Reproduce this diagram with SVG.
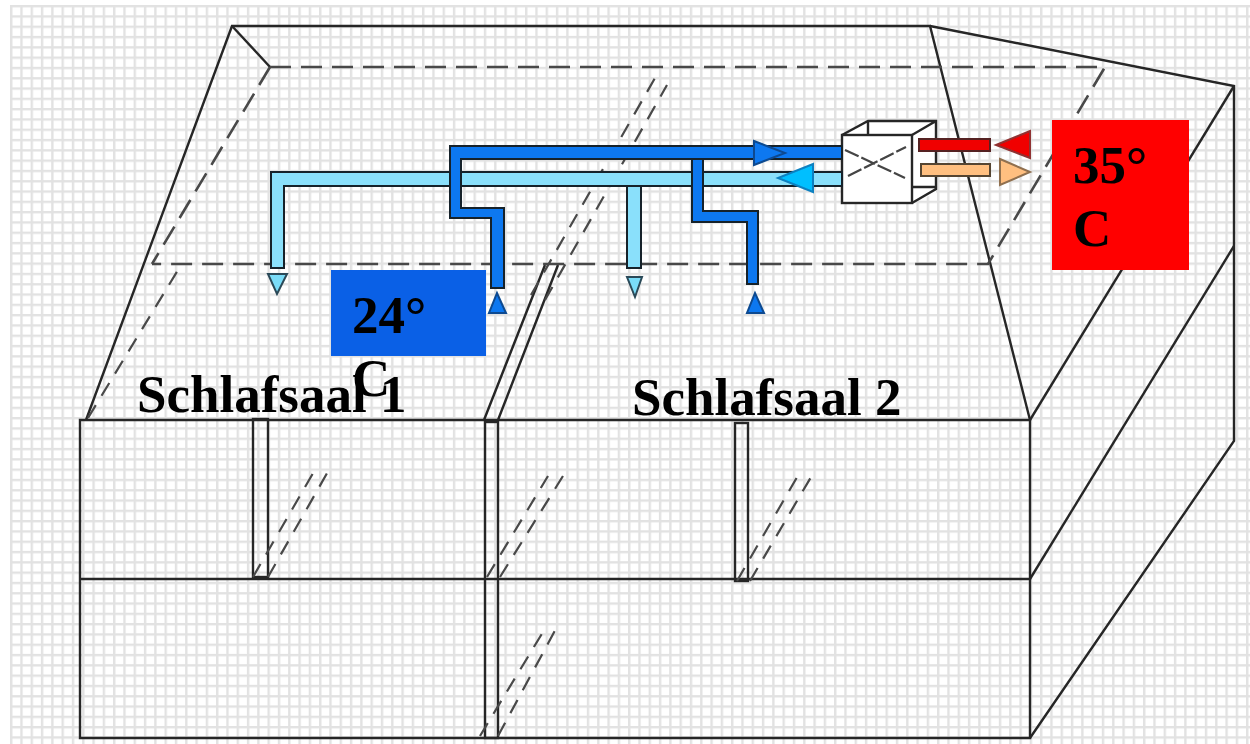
<svg xmlns="http://www.w3.org/2000/svg" width="1250" height="744" viewBox="0 0 1250 744">
<style>
.l{fill:none;stroke:#262626;stroke-width:2.4}
.d{fill:none;stroke:#484848;stroke-width:2.6;stroke-dasharray:21 10}
.s{fill:none;stroke:#484848;stroke-width:2.2;stroke-dasharray:15 11}
.p{stroke:#14202c;stroke-width:2;stroke-linejoin:miter}
.t{font-family:"Liberation Serif",serif;font-weight:bold;fill:#000;font-size:53px}
.b{filter:url(#soft)}
</style>
<defs>
<pattern id="g" x="10" y="5" width="10.3" height="10.3" patternUnits="userSpaceOnUse">
<path d="M1.2 0V10.3M0 1.2H10.3" stroke="#e2e2e2" stroke-width="2.4" fill="none"/>
</pattern>
<filter id="soft" x="-2%" y="-2%" width="104%" height="104%"><feGaussianBlur stdDeviation="0.55"/></filter>
</defs>
<rect width="1250" height="744" fill="#fff"/>
<rect class="b" x="10" y="5" width="1240" height="739" fill="url(#g)"/>
<g id="building" class="b">
<path class="l" d="M80 420H1030V738H80Z"/>
<path class="l" d="M80 579H1030"/>
<path class="l" d="M86 420L232 26H930L1030 420"/>
<path class="l" d="M930 26L1234 86V441L1030 738"/>
<path class="l" d="M1030 420L1234 86"/>
<path class="l" d="M1030 579L1234 246"/>
<path class="l" d="M232 26L270 67"/>
<path class="l" d="M484 420L545 265M498 420L558 265"/>
<rect class="l" x="253" y="419" width="15" height="158"/>
<rect class="l" x="485" y="422" width="13" height="316"/>
<rect class="l" x="735" y="423" width="13" height="158"/>
</g>
<g id="dashed" class="b">
<path class="d" d="M270 67H1105L988 264H152"/>
<path class="d" d="M270 67L152 264"/>
<path class="s" d="M88 418L178 270"/>
<path class="s" d="M531 295L655 78M545 300L667 85"/>
<path class="s" d="M253 577L316 468M268 577L330 468"/>
<path class="s" d="M487 577L548 476M500 577L563 476"/>
<path class="s" d="M737 581L800 472M750 581L814 472"/>
<path class="s" d="M480 736L546 627M498 736L558 625"/>
</g>
<g id="unit" class="b">
<path d="M842 135L868 120H936V193L912 203H842Z" fill="#fff"/>
<path class="l" d="M842 135L868 121H936V189L912 203M912 135L936 121M868 121V135M912 187L936 187"/>
<rect class="l" x="842" y="135" width="70" height="68"/>
<path d="M845 150L905 178M848 176L906 147" fill="none" stroke="#444" stroke-width="2.2" stroke-dasharray="15 3"/>
</g>
<g id="connectors" class="b">
<path class="p" fill="#8ae0fb" d="M271 172H842V186H284V268H271Z"/>
<path class="p" fill="#8ae0fb" d="M627 186H641V268H627Z"/>
<path class="p" fill="#0a78f0" d="M450 146H842V159H461V208H504V288H491V218H450Z"/>
<path class="p" fill="#0a78f0" d="M692 159H703V211H758V284H747V222H692Z"/>
<rect x="919" y="139" width="71" height="12" fill="#f00000" stroke="#552222" stroke-width="2"/>
<rect x="921" y="164" width="69" height="12" fill="#ffbf80" stroke="#554433" stroke-width="2"/>
<path d="M754 141L785 153L754 165Z" fill="#0a78f0" stroke="#0a4a90" stroke-width="2"/>
<path d="M813 164V192L778 178Z" fill="#00bfff" stroke="#0a80c0" stroke-width="2"/>
<path d="M1030 131V158L996 145Z" fill="#f00000" stroke="#903030" stroke-width="2"/>
<path d="M1000 159L1030 172L1000 185Z" fill="#ffbf80" stroke="#907050" stroke-width="2"/>
<path d="M268 274H287L277 294Z" fill="#7adcf8" stroke="#2c4a58" stroke-width="2"/>
<path d="M627 277H642L635 297Z" fill="#7adcf8" stroke="#2c4a58" stroke-width="2"/>
<path d="M489 313H506L497 293Z" fill="#0a78f0" stroke="#0a4a90" stroke-width="2"/>
<path d="M747 313H764L755 293Z" fill="#0a78f0" stroke="#0a4a90" stroke-width="2"/>
</g>
<g id="label-24"><rect x="331" y="270" width="155" height="86" fill="#0a60e6"/>
<text class="t" x="352" y="333">24°</text>
<text class="t" x="352" y="396">C</text></g>
<g id="label-35"><rect x="1052" y="120" width="137" height="150" fill="#ff0000"/>
<text class="t" x="1073" y="183">35°</text>
<text class="t" x="1073" y="246">C</text></g>
<g id="room-1"><text class="t" x="137" y="412">Schlafsaal 1</text></g>
<g id="room-2"><text class="t" x="632" y="415">Schlafsaal 2</text></g>
</svg>
